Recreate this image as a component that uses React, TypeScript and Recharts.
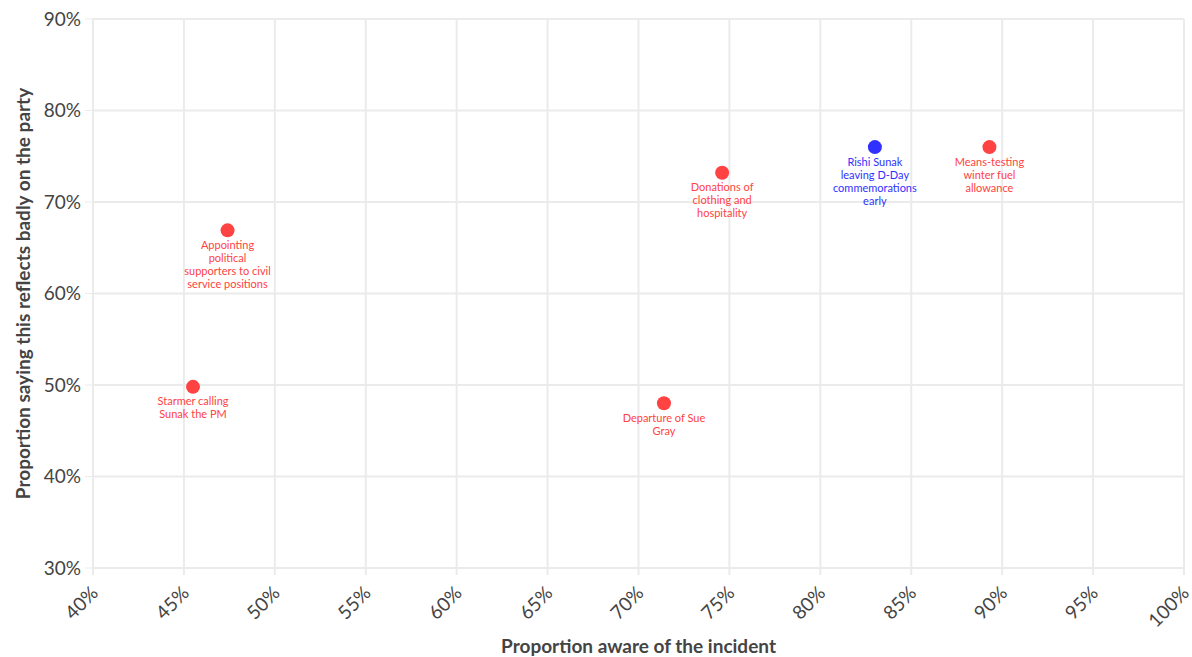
import { CartesianGrid, Scatter, ScatterChart, XAxis, YAxis } from 'recharts';

const incidents = [
  'Starmer calling\nSunak the PM',
  'Appointing\npolitical\nsupporters to civil\nservice positions',
  'Donations of\nclothing and\nhospitality',
  'Departure of Sue\nGray',
  'Rishi Sunak\nleaving D-Day\ncommemorations\nearly',
  'Means-testing\nwinter fuel\nallowance',
];
const awareness = [45.5, 47.4, 74.6, 71.4, 83.0, 89.3];
const reflectsBadly = [49.8, 66.9, 73.2, 48.0, 76.0, 76.0];
const party = ['Labour', 'Labour', 'Labour', 'Labour', 'Conservative', 'Labour'];

const xTicks = [40, 45, 50, 55, 60, 65, 70, 75, 80, 85, 90, 95, 100];
const yTicks = [30, 40, 50, 60, 70, 80, 90];

const partyColor: Record<string, string> = {
  Labour: '#ff4242',
  Conservative: '#3131ff',
};

const data = incidents.map((label, i) => ({
  label,
  aware: awareness[i],
  badly: reflectsBadly[i],
  party: party[i],
}));

const FONT = 'Lato, "Open Sans", sans-serif';

function Dot(props: any) {
  const { cx, cy, payload } = props;
  const color = partyColor[payload.party];
  const lines = String(payload.label).split('\n');
  return (
    <g>
      <circle cx={cx} cy={cy} r={7} fill={color} />
      {lines.map((line, i) => (
        <text
          key={i}
          x={cx}
          y={cy + 14 + i * 13}
          textAnchor="middle"
          dominantBaseline="central"
          fontSize={11}
          fontFamily={FONT}
          fill={color}
        >
          {line}
        </text>
      ))}
    </g>
  );
}

function XTick(props: any) {
  const { x, y, payload } = props;
  const ax = x + 1;
  const ay = y + 12;
  return (
    <text
      x={ax}
      y={ay}
      transform={`rotate(-45, ${ax}, ${ay})`}
      textAnchor="end"
      dominantBaseline="central"
      fontSize={19}
      fontFamily={FONT}
      fill="#444"
    >
      {payload.value}%
    </text>
  );
}

function YTitle(props: any) {
  const { viewBox } = props;
  const cy = viewBox.y + viewBox.height / 2;
  return (
    <text
      x={22}
      y={cy}
      transform={`rotate(-90, 22, ${cy})`}
      textAnchor="middle"
      dominantBaseline="central"
      fontSize={19}
      fontWeight={700}
      fontFamily={FONT}
      fill="#444"
    >
      Proportion saying this reflects badly on the party
    </text>
  );
}

function XTitle(props: any) {
  const { viewBox } = props;
  const cx = viewBox.x + viewBox.width / 2;
  return (
    <text
      x={cx}
      y={653}
      textAnchor="middle"
      fontSize={19}
      fontWeight={700}
      fontFamily={FONT}
      fill="#444"
    >
      Proportion aware of the incident
    </text>
  );
}

export default function App() {
  return (
    <div style={{ position: 'fixed', left: 0, top: 0, background: '#fff' }}>
      <ScatterChart width={1192} height={657} margin={{ top: 19, right: 8, left: 0, bottom: 0 }}>
        <CartesianGrid stroke="#ebebeb" strokeWidth={2} />
        <XAxis
          type="number"
          dataKey="aware"
          domain={[40, 100]}
          ticks={xTicks}
          interval={0}
          tick={<XTick />}
          stroke="#ebebeb"
          strokeWidth={2}
          tickSize={7}
          height={89}
          label={<XTitle />}
        />
        <YAxis
          type="number"
          dataKey="badly"
          domain={[30, 90]}
          ticks={yTicks}
          interval={0}
          tickFormatter={(v) => `${v}%`}
          tick={{ fontSize: 19, fill: '#444', fontFamily: FONT }}
          stroke="#ebebeb"
          axisLine={false}
          tickSize={8}
          tickMargin={4}
          width={93}
          label={<YTitle />}
        />
        <Scatter data={data} shape={<Dot />} isAnimationActive={false} />
      </ScatterChart>
    </div>
  );
}
